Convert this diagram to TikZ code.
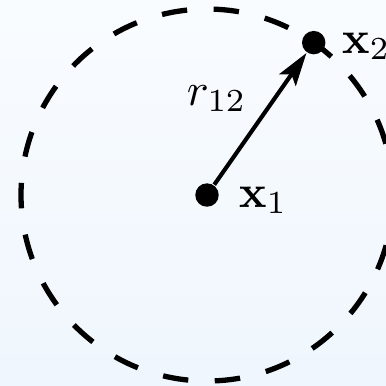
\documentclass[tikz,border=0pt]{standalone}
\usetikzlibrary{arrows.meta}
\definecolor{bgtop}{RGB}{249,252,255}
\definecolor{bgbot}{RGB}{239,246,253}
\begin{document}
\begin{tikzpicture}[x=0.2176pt,y=-0.2176pt,
  dot/.style={circle,fill=black,inner sep=0pt,minimum size=5.1pt},
  lbl/.style={inner sep=0pt,anchor=base west},
  bound/.style={draw=black,line width=1.15pt,dash pattern=on 5.55pt off 5.77pt,dash phase=0pt},
  vec/.style={line width=0.9pt,-{Stealth[length=7.2pt,width=4.4pt,inset=1.5pt]}}]
\useasboundingbox (0,0) rectangle (386,385);
\clip (0,0) rectangle (386,385);
\shade[top color=bgtop,bottom color=bgbot] (0,0) rectangle (386,385);
\node[dot] (p1) at (207,195) {};
\node[dot] (p2) at (313.7,42.6) {};
\draw[bound] (p1.center) ++(186,0) arc[start angle=0,end angle=-360,radius=186];
\draw[vec] (p1) -- (p2);
\node[lbl] (l1) at (238,207) {$\mathbf{x}_1$};
\node[lbl] (l2) at (341,53) {$\mathbf{x}_2$};
\node[lbl] (lr) at (186,105) {$r_{12}$};
\end{tikzpicture}
\end{document}
